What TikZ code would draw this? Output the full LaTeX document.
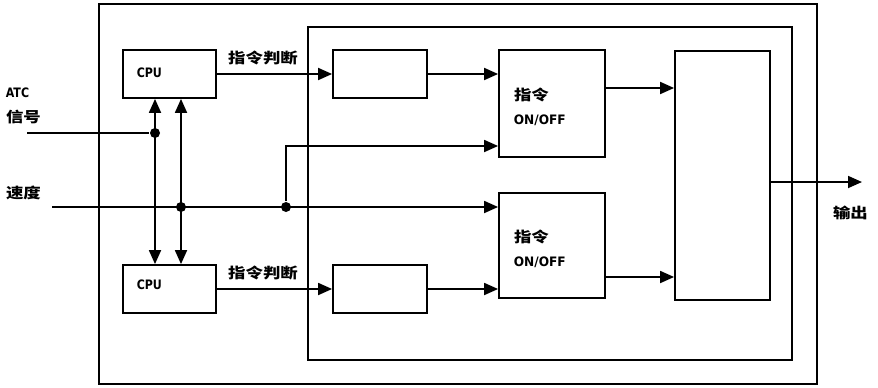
\documentclass[tikz,border=0pt]{standalone}
\usepackage{fontspec}
\newfontfamily\cjk{Noto Sans CJK SC}
\newfontfamily\lat{DejaVu Sans}
\usetikzlibrary{arrows.meta}
\begin{document}
\begin{tikzpicture}[x=1pt,y=-1pt,
  line width=1.8pt,
  tip/.style={-{Triangle[length=14pt,width=12pt]}},
  bitip/.style={{Triangle[length=14pt,width=12pt]}-{Triangle[length=14pt,width=12pt]}},
  blk/.style={draw,rectangle,inner sep=0pt,line width=1.8pt},
  dot/.style={circle,fill,inner sep=0pt,minimum size=10pt},
  zh/.style={font=\cjk\bfseries\fontsize{14.5}{14.5}\selectfont,xscale=1.2,inner sep=0pt},
  en/.style={font=\lat\bfseries\fontsize{13}{13}\selectfont,xscale=0.85,inner sep=0pt}]
\useasboundingbox (0,0) rectangle (878,388);
% frames
\node[blk,minimum width=718pt,minimum height=380pt] (outer) at (458,194) {};
\node[blk,minimum width=484pt,minimum height=333pt] (inner) at (550,193.5) {};
% blocks
\node[blk,minimum width=93pt,minimum height=48pt] (cpu1) at (169.5,74) {};
\node[blk,minimum width=93pt,minimum height=48pt] (cpu2) at (169.5,289) {};
\node[blk,minimum width=94pt,minimum height=48pt] (sb1) at (380,74) {};
\node[blk,minimum width=94pt,minimum height=48pt] (sb2) at (380,289) {};
\node[blk,minimum width=106pt,minimum height=107pt] (on1) at (552,103.5) {};
\node[blk,minimum width=106pt,minimum height=105pt] (on2) at (552,245.5) {};
\node[blk,minimum width=95pt,minimum height=249pt] (big) at (722.5,175.5) {};
% texts
\node[en,anchor=west] (t1) at (136,73) {CPU};
\node[en,anchor=west] (t2) at (136,285) {CPU};
\node[zh] (j1) at (263,58) {指令判断};
\node[zh] (j2) at (263,273) {指令判断};
\node[zh,anchor=west] (z1) at (513,95) {指令};
\node[en,anchor=west,xscale=1.1] (o1) at (513,120) {ON/OFF};
\node[zh,anchor=west] (z2) at (513,237) {指令};
\node[en,anchor=west,xscale=1.1] (o2) at (513,262) {ON/OFF};
\node[en,anchor=west] (atc) at (5,93) {ATC};
\node[zh,anchor=west] (xh) at (5,117) {信号};
\node[zh,anchor=west] (sd) at (5,193) {速度};
\node[zh,anchor=west] (sc) at (832,213) {输出};
% coordinates
\coordinate (atcin) at (27,133);
\coordinate (spdin) at (52,207);
\coordinate (out) at (862,182);
\coordinate (y88) at (0,88);
\coordinate (y277) at (0,277);
\coordinate (y146) at (0,146);
\node[dot] (d1) at (155,133) {};
\node[dot] (d2) at (181,207) {};
\node[dot] (d3) at (286,207) {};
% connectors
\draw (atcin) -- (d1);
\draw[tip] (spdin) -- (on2.west |- spdin);
\draw[bitip] (cpu1.south -| d1) -- (cpu2.north -| d1);
\draw[bitip] (cpu1.south -| d2) -- (cpu2.north -| d2);
\draw[tip] (d3) |- (on1.west |- y146);
\draw[tip] (cpu1.east) -- (sb1.west);
\draw[tip] (cpu2.east) -- (sb2.west);
\draw[tip] (sb1.east) -- (on1.west |- sb1.east);
\draw[tip] (sb2.east) -- (on2.west |- sb2.east);
\draw[tip] (on1.east |- y88) -- (big.west |- y88);
\draw[tip] (on2.east |- y277) -- (big.west |- y277);
\draw[tip] (big.east |- out) -- (out);
\end{tikzpicture}
\end{document}
